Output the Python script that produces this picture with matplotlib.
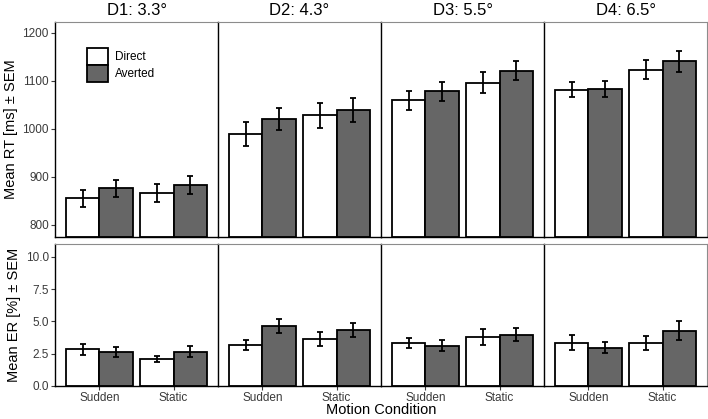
import numpy as np
import matplotlib.pyplot as plt

plt.rcParams.update({
    "font.family": ["Liberation Sans", "DejaVu Sans"],
    "figure.dpi": 100,
})

panels = ["D1: 3.3°", "D2: 4.3°", "D3: 5.5°", "D4: 6.5°"]
motion = ["Sudden", "Static"]

# RT means [panel][motion] and SEM
rt_direct = [[855, 867], [989, 1028], [1059, 1096], [1081, 1123]]
rt_averted = [[876, 883], [1020, 1039], [1078, 1121], [1083, 1140]]
rt_direct_sem = [[17, 19], [24, 26], [20, 22], [16, 20]]
rt_averted_sem = [[18, 19], [23, 25], [20, 20], [16, 21]]

# error rates
er_direct = [[2.84, 2.09], [3.18, 3.64], [3.36, 3.77], [3.36, 3.33]]
er_averted = [[2.61, 2.66], [4.63, 4.32], [3.13, 3.98], [2.95, 4.29]]
er_direct_sem = [[0.44, 0.26], [0.41, 0.52], [0.39, 0.60], [0.58, 0.53]]
er_averted_sem = [[0.40, 0.45], [0.53, 0.53], [0.44, 0.53], [0.43, 0.75]]

WHITE = "#FFFFFF"
GREY = "#666666"
EDGE_GREY = "#8C8C8C"
TICK_COL = "#3A3A3A"

fig, axes = plt.subplots(2, 4, figsize=(7.08, 4.19), sharex=True,
                         gridspec_kw={"height_ratios": [215, 142],
                                      "hspace": 0.04, "wspace": 0})
fig.subplots_adjust(left=0.0777, right=0.9986, top=0.9475, bottom=0.0788)

x = np.arange(1, len(motion) + 1)
w = 0.45
rows = [
    (rt_direct, rt_averted, rt_direct_sem, rt_averted_sem, (775, 1222),
     [800, 900, 1000, 1100, 1200], ["800", "900", "1000", "1100", "1200"],
     "Mean RT [ms] ± SEM", 775),
    (er_direct, er_averted, er_direct_sem, er_averted_sem, (0, 10.98),
     [0, 2.5, 5, 7.5, 10], ["0.0", "2.5", "5.0", "7.5", "10.0"],
     "Mean ER [%] ± SEM", 0),
]

for r, (dv, av, ds, as_, ylim, yt, ytl, ylab, base) in enumerate(rows):
    for c in range(4):
        ax = axes[r, c]
        d = np.array(dv[c])
        a = np.array(av[c])
        ax.bar(x - w / 2, d - base, w, bottom=base, color=WHITE,
               edgecolor="black", linewidth=1.3, label="Direct", zorder=2)
        ax.bar(x + w / 2, a - base, w, bottom=base, color=GREY,
               edgecolor="black", linewidth=1.3, label="Averted", zorder=2)
        ax.errorbar(x - w / 2, d, yerr=ds[c], fmt="none", ecolor="black",
                    elinewidth=1.3, capsize=2, capthick=1.3, zorder=3)
        ax.errorbar(x + w / 2, a, yerr=as_[c], fmt="none", ecolor="black",
                    elinewidth=1.3, capsize=2, capthick=1.3, zorder=3)
        ax.set_xlim(0.4, 2.6)
        ax.set_ylim(*ylim)
        ax.set_yticks(yt)
        for side in ["top", "right"]:
            ax.spines[side].set_color(EDGE_GREY)
            ax.spines[side].set_linewidth(0.8)
        for side in ["left", "bottom"]:
            ax.spines[side].set_color("black")
            ax.spines[side].set_linewidth(1.0)
        ax.tick_params(direction="out", length=3, width=0.8, color=TICK_COL,
                       labelsize=8.5, labelcolor=TICK_COL, pad=1.5)
        if c == 0:
            ax.set_yticklabels(ytl)
            ax.set_ylabel(ylab, fontsize=10.5, labelpad=3)
        else:
            ax.tick_params(axis="y", left=False, labelleft=False)
        if r == 0:
            ax.set_title(panels[c], fontsize=12, pad=5)
            ax.tick_params(axis="x", bottom=False, labelbottom=False)
        else:
            ax.set_xticks(x)
            ax.set_xticklabels(motion)

leg = axes[0, 0].legend(loc="upper left", bbox_to_anchor=(0.163, 0.905),
                        frameon=False, fontsize=8.5, handlelength=1.75,
                        handleheight=1.8, labelspacing=0.0,
                        handletextpad=0.6, borderpad=0)

fig.text(0.538, 0.004, "Motion Condition", ha="center", va="bottom",
         fontsize=10.5)

fig.savefig("out.png", dpi=100)
